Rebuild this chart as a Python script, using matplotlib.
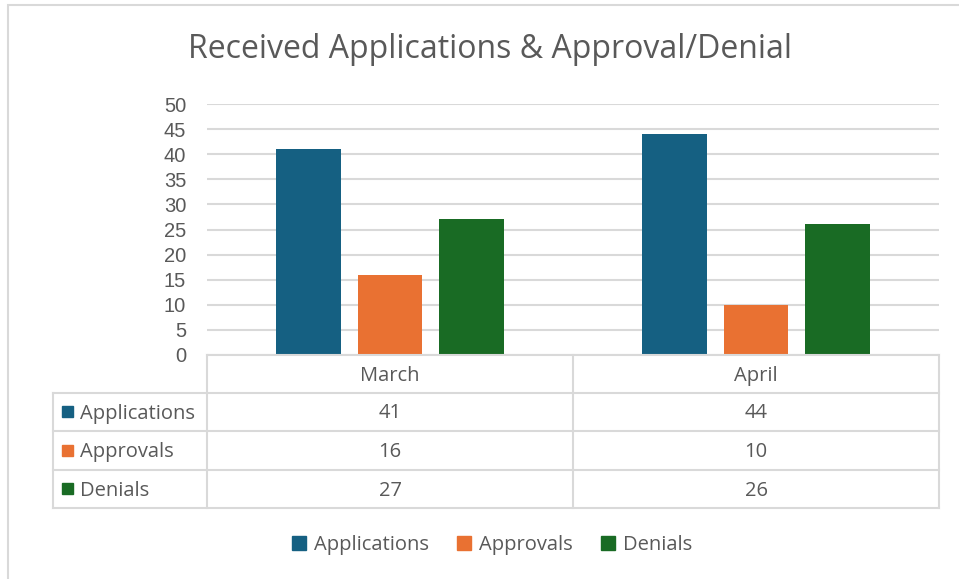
import matplotlib
matplotlib.use("Agg")
import matplotlib.pyplot as plt
from matplotlib.lines import Line2D
from matplotlib.patches import Rectangle
from matplotlib.transforms import blended_transform_factory

categories = ["March", "April"]
series_names = ["Applications", "Approvals", "Denials"]
applications = [41, 44]
approvals = [16, 10]
denials = [27, 26]
series_values = [applications, approvals, denials]
y_ticks = [0, 5, 10, 15, 20, 25, 30, 35, 40, 45, 50]
title = "Received Applications & Approval/Denial"

colors = ["#156082", "#E97132", "#196B24"]
text_color = "#595959"
grid_color = "#D9D9D9"
FONT = ["Open Sans", "DejaVu Sans"]
plt.rcParams["font.family"] = FONT

W, H = 959, 579
fig = plt.figure(figsize=(W / 100, H / 100), dpi=100)
fig.patch.set_facecolor("white")

def fx(px):
    return px / W

def fy(py):
    return 1 - py / H

# outer chart frame
fig.add_artist(Rectangle((fx(8), fy(H + 20)), fx(W + 20), (H + 20 - 5) / H,
                         transform=fig.transFigure, fill=False,
                         edgecolor=grid_color, linewidth=1.5))

left, right, top, bottom = 207, 939, 104, 355
ax = fig.add_axes([fx(left), fy(bottom), fx(right) - fx(left), (bottom - top) / H])
ax.set_ylim(0, 50)
ax.set_xlim(-0.5, len(categories) - 0.5)
ax.set_yticks(y_ticks)
ax.yaxis.grid(True, color=grid_color, linewidth=1.5)
ax.set_axisbelow(True)
for s in ax.spines.values():
    s.set_visible(False)
ax.tick_params(axis="y", length=0, labelsize=14.5, labelcolor=text_color, pad=15)
for lab in ax.get_yticklabels():
    lab.set_fontfamily(["Liberation Sans", "DejaVu Sans"])
ax.set_xticks([])

bar_w = 0.175
offset = 0.2227
n = len(series_names)
for i, (vals, c) in enumerate(zip(series_values, colors)):
    xs = [k + (i - (n - 1) / 2) * offset for k in range(len(categories))]
    ax.bar(xs, vals, width=bar_w, color=c, zorder=3)

fig.text(fx(490), fy(50), title, ha="center", va="center",
         fontsize=23, color=text_color)

# data table
row_lines = [355, 393, 431, 470, 508]
tab_left, col_split = 53, 573
ln = dict(color=grid_color, linewidth=1.5, transform=fig.transFigure)
fig.add_artist(Line2D([fx(left), fx(right)], [fy(355), fy(355)], **ln))
for yy in row_lines[1:]:
    fig.add_artist(Line2D([fx(tab_left), fx(right)], [fy(yy), fy(yy)], **ln))
for xx in [left, col_split, right]:
    fig.add_artist(Line2D([fx(xx), fx(xx)], [fy(355), fy(508)], **ln))
fig.add_artist(Line2D([fx(tab_left), fx(tab_left)], [fy(393), fy(508)], **ln))

fs = 14.5
tr = blended_transform_factory(ax.transData, fig.transFigure)
for k, cat in enumerate(categories):
    fig.text(k, fy(376), cat, transform=tr, ha="center", va="center",
             fontsize=fs, color=text_color)
for i, (name, vals, c) in enumerate(zip(series_names, series_values, colors)):
    yc = (row_lines[i + 1] + row_lines[i + 2]) / 2
    fig.add_artist(Rectangle((fx(62), fy(yc + 5)), fx(11), 11 / H,
                             transform=fig.transFigure, color=c))
    fig.text(fx(80), fy(yc + 1.5), name, ha="left", va="center",
             fontsize=fs, color=text_color)
    for k, v in enumerate(vals):
        fig.text(k, fy(yc + 1.5), str(v), transform=tr, ha="center", va="center",
                 fontsize=fs, color=text_color)

# legend
handles = [Rectangle((0, 0), 1, 1, color=c) for c in colors]
fig.legend(handles, series_names, loc="center", bbox_to_anchor=(fx(492), fy(545)),
           ncol=3, frameon=False, fontsize=fs, labelcolor=text_color,
           handlelength=0.7, handleheight=0.7, handletextpad=0.4,
           columnspacing=1.4)

fig.savefig("out.png", dpi=100, facecolor="white")
